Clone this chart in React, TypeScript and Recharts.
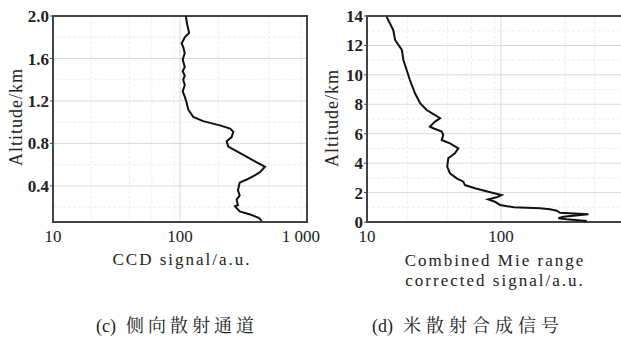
import React from "react"
import { CartesianGrid, ReferenceArea, Scatter, ScatterChart, XAxis, YAxis } from "recharts"

// (c) side-scatter channel: altitude (km) vs CCD signal
const ccdAltitude = [2.0, 1.92, 1.84, 1.8, 1.74, 1.71, 1.65, 1.59, 1.52, 1.48, 1.44, 1.4, 1.35, 1.29, 1.24, 1.18, 1.12, 1.05, 1.01, 0.97, 0.94, 0.91, 0.86, 0.82, 0.77, 0.71, 0.64, 0.58, 0.53, 0.5, 0.46, 0.43, 0.36, 0.31, 0.27, 0.22, 0.21, 0.16, 0.13, 0.1, 0.07]
const ccdSignal = [111, 114, 118, 109, 103, 106, 109, 105, 109, 105, 109, 106, 109, 105, 109, 113, 116, 127, 152, 206, 248, 263, 255, 233, 240, 295, 377, 467, 426, 388, 335, 295, 286, 295, 279, 286, 271, 295, 357, 417, 440]

// (d) combined Mie range corrected signal
const mieAltitude = [13.95, 13.05, 12.37, 11.69, 11.01, 9.65, 8.75, 8.07, 7.61, 7.27, 7.05, 6.82, 6.48, 6.37, 6.14, 5.91, 5.57, 5.35, 5.01, 4.67, 4.33, 3.76, 3.31, 2.97, 2.74, 2.51, 2.29, 2.06, 1.83, 1.68, 1.54, 1.38, 1.16, 1.0, 0.93, 0.86, 0.77, 0.63, 0.52, 0.36, 0.25, 0.18, 0.07]
const mieSignal = [14.0, 15.7, 16.2, 18.2, 18.7, 20.9, 22.8, 24.9, 27.9, 32.2, 35.1, 32.2, 29.5, 31.2, 36.1, 37.1, 36.1, 41.6, 48.0, 45.3, 40.4, 39.7, 41.6, 46.7, 52.3, 53.8, 63.9, 80.4, 101, 92.8, 80.4, 90.1, 98.4, 124, 195, 232, 261, 275, 449, 292, 268, 309, 437]

const ccdYTicks = [0.4, 0.8, 1.2, 1.6, 2.0]
const ccdYMinor = [0.2, 0.6, 1.0, 1.4, 1.8]
const ccdXTicks = [10, 100, 1000]
const mieYTicks = [0, 2, 4, 6, 8, 10, 12, 14]
const mieYMinor = [1, 3, 5, 7, 9, 11, 13]
const mieXTicks = [10, 100]
const logMinor = [20, 30, 40, 50, 60, 70, 80, 90, 200, 300, 400, 500, 600, 700, 800, 900]

const ccdData = ccdAltitude.map((alt, i) => ({ alt, v: ccdSignal[i] }))
const mieData = mieAltitude.map((alt, i) => ({ alt, v: mieSignal[i] }))

const serif = "Liberation Serif, serif"
const cjk = "Noto Serif CJK SC, Noto Sans CJK SC, serif"
const xTick = { fontSize: 17, fill: "#222", fontFamily: serif }
const yTick = { fontSize: 17, fill: "#222", fontFamily: serif, fontWeight: 700 }

const fmtX = (v: number) => (v === 1000 ? "1 000" : String(v))

const textBase: React.CSSProperties = {
  position: "absolute",
  fontFamily: serif,
  color: "#222",
  whiteSpace: "nowrap",
  transform: "translate(-50%, -50%)",
}

function Panel({
  data, yDomain, yTicks, yMinor, xTicks, yFmt, width, yAxisWidth, right,
}: {
  data: { alt: number; v: number }[]
  yDomain: [number, number]
  yTicks: number[]
  yMinor: number[]
  xTicks: number[]
  yFmt: (v: number) => string
  width: number
  yAxisWidth: number
  right: number
}) {
  return (
    <ScatterChart width={width} height={260} margin={{ top: 16, right, bottom: 8, left: 0 }}>
      <CartesianGrid verticalValues={logMinor} horizontalValues={yMinor} stroke="#ececec" strokeDasharray="3 2" />
      <CartesianGrid verticalValues={[100]} horizontalValues={yTicks} stroke="#dadada" />
      <XAxis
        type="number"
        dataKey="v"
        scale="log"
        domain={[10, 1000]}
        ticks={xTicks}
        tickFormatter={fmtX}
        allowDataOverflow
        axisLine={false}
        tickLine={false}
        tickSize={6}
        tickMargin={2}
        height={30}
        tick={xTick}
      />
      <YAxis
        type="number"
        dataKey="alt"
        domain={yDomain}
        ticks={yTicks}
        tickFormatter={yFmt}
        allowDataOverflow
        axisLine={false}
        tickLine={{ stroke: "#444" }}
        tickSize={3}
        tickMargin={1}
        width={yAxisWidth}
        tick={yTick}
      />
      <ReferenceArea x1={10} x2={1000} y1={yDomain[0]} y2={yDomain[1]} fill="none" stroke="#444" strokeWidth={2} />
      <Scatter
        data={data}
        line={{ stroke: "#111", strokeWidth: 2 }}
        lineType="joint"
        shape={() => <g />}
        isAnimationActive={false}
      />
    </ScatterChart>
  )
}

export default function App() {
  return (
    <div style={{ position: "absolute", left: 0, top: 0, width: 621, height: 343, overflow: "hidden", background: "#fff" }}>
      <div style={{ position: "absolute", left: 0, top: 0 }}>
        <Panel
          data={ccdData}
          yDomain={[0.06, 2]}
          yTicks={ccdYTicks}
          yMinor={ccdYMinor}
          xTicks={ccdXTicks}
          yFmt={(v) => v.toFixed(1)}
          width={320}
          yAxisWidth={53}
          right={13}
        />
      </div>
      <div style={{ position: "absolute", left: 310, top: 0 }}>
        <Panel
          data={mieData}
          yDomain={[0, 14]}
          yTicks={mieYTicks}
          yMinor={mieYMinor}
          xTicks={mieXTicks}
          yFmt={(v) => String(v)}
          width={340}
          yAxisWidth={57}
          right={15}
        />
      </div>

      <div style={{ ...textBase, left: 16, top: 117, fontSize: 18, letterSpacing: 1, transform: "translate(-50%, -50%) rotate(-90deg)" }}>
        Altitude/km
      </div>
      <div style={{ ...textBase, left: 332, top: 118, fontSize: 18, letterSpacing: 1, transform: "translate(-50%, -50%) rotate(-90deg)" }}>
        Altitude/km
      </div>

      <div style={{ ...textBase, left: 182, top: 260, fontSize: 17, letterSpacing: 2 }}>CCD signal/a.u.</div>
      <div style={{ ...textBase, left: 495, top: 261, fontSize: 17, letterSpacing: 2 }}>Combined Mie range</div>
      <div style={{ ...textBase, left: 495, top: 281, fontSize: 17, letterSpacing: 2 }}>corrected signal/a.u.</div>

      <div style={{ ...textBase, left: 177, top: 324, fontSize: 18 }}>
        (c)<span style={{ fontFamily: cjk, fontSize: 18, letterSpacing: 4, marginLeft: 10 }}>侧向散射通道</span>
      </div>
      <div style={{ ...textBase, left: 468, top: 324, fontSize: 18 }}>
        (d)<span style={{ fontFamily: cjk, fontSize: 18, letterSpacing: 5, marginLeft: 10 }}>米散射合成信号</span>
      </div>
    </div>
  )
}
